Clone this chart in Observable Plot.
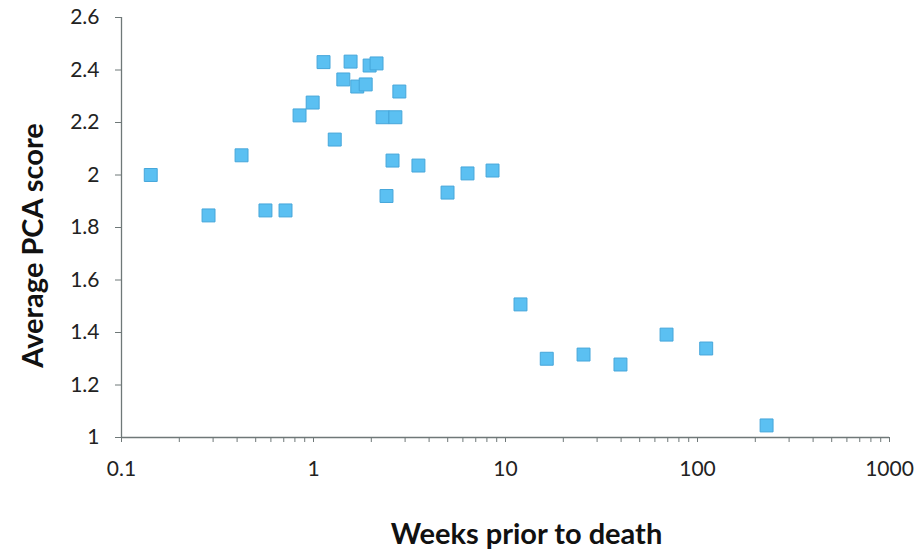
<!DOCTYPE html>
<html>
<head>
<meta charset="utf-8">
<script src="https://cdn.jsdelivr.net/npm/d3@7"></script>
<script src="https://cdn.jsdelivr.net/npm/@observablehq/plot@0.6"></script>
<style>
  html, body { margin: 0; padding: 0; background: #fff; }
  #chart svg { display: block; }
</style>
</head>
<body>
<div id="chart"></div>
<script>
// Data
const weeks = [0.142, 0.284, 0.422, 0.562, 0.715, 0.846, 0.99, 1.128, 1.29, 1.43, 1.56, 1.69, 1.87, 1.96, 2.13, 2.29, 2.40, 2.58, 2.67, 2.80, 3.52, 4.99, 6.34, 8.56, 11.97, 16.4, 25.5, 39.7, 69, 111, 229];
const scores = [2.00, 1.846, 2.075, 1.865, 1.865, 2.227, 2.276, 2.43, 2.135, 2.364, 2.432, 2.337, 2.345, 2.417, 2.425, 2.22, 1.92, 2.055, 2.22, 2.318, 2.036, 1.933, 2.006, 2.017, 1.507, 1.30, 1.316, 1.278, 1.392, 1.339, 1.046];
const xTickLabels = [0.1, 1, 10, 100, 1000];
const yTickLabels = [1, 1.2, 1.4, 1.6, 1.8, 2, 2.2, 2.4, 2.6];
const xTitle = ["Weeks prior to death"];
const yTitle = ["Average PCA score"];

const data = weeks.map((w, i) => ({w, s: scores[i]}));
const xMinor = [];
for (let d = 0; d < xTickLabels.length - 1; d++) {
  for (let k = 1; k <= 9; k++) xMinor.push(xTickLabels[d] * k);
}
xMinor.push(xTickLabels[xTickLabels.length - 1]);

const axisColor = "#6f7878";
const font = "Lato, 'Open Sans', sans-serif";

const plot = Plot.plot({
  width: 918,
  height: 550,
  marginLeft: 121,
  marginRight: 29,
  marginTop: 17,
  marginBottom: 113,
  style: {fontFamily: font, fontSize: "21px", color: "#222", background: "#fff"},
  x: {type: "log", domain: [0.1, 1000]},
  y: {domain: [1, 2.6]},
  marks: [
    Plot.ruleX([0.1], {stroke: axisColor, strokeWidth: 1.3}),
    Plot.ruleY([1], {stroke: axisColor, strokeWidth: 1.3}),
    Plot.axisX(xMinor, {tickSize: 5, stroke: axisColor, tickFormat: () => "", label: null}),
    Plot.axisX(xTickLabels, {tickSize: 0, tickPadding: 24, tickFormat: d => String(d), fill: "#222", fontSize: 21, label: null}),
    Plot.axisY(yTickLabels, {tickSize: 6, stroke: axisColor, tickPadding: 16, tickFormat: d => String(d), fill: "#222", fontSize: 21, label: null}),
    Plot.dot(data, {x: "w", y: "s", symbol: "square", r: 7.3, fill: "#5bc0f2", stroke: "#46a6da", strokeWidth: 1}),
    Plot.text(xTitle, {text: d => d, frameAnchor: "bottom", dx: 21, dy: 106, fontSize: 29, fontWeight: "bold", fill: "#111"}),
    Plot.text(yTitle, {text: d => d, frameAnchor: "left", textAnchor: "middle", dx: -88, dy: 18, rotate: -90, fontSize: 29, fontWeight: "bold", fill: "#111"})
  ]
});
document.getElementById("chart").appendChild(plot);
</script>
</body>
</html>
